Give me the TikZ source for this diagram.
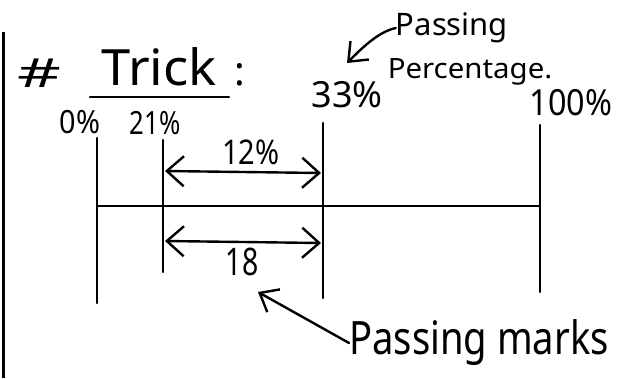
\documentclass[tikz,border=0pt]{standalone}
\usepackage{fontspec}
\setmainfont{Noto Sans}
\usetikzlibrary{arrows.meta}
\newcommand{\hw}[3]{\scalebox{#1}[1]{\fontsize{#2}{#2}\selectfont #3}}
\tikzset{
  hwbarb/.tip={Straight Barb[length=17pt,width=30pt,line width=2.4pt]},
  hwpoint/.tip={Straight Barb[length=16pt,width=26pt,line width=2.4pt]}}
\begin{document}
\begin{tikzpicture}[x=1pt,y=-1pt,
  ink/.style={line width=2.4pt,line cap=round,line join=round,black},
  dim/.style={ink,hwbarb-hwbarb},
  pointer/.style={ink,-hwpoint},
  lbl/.style={inner sep=0pt}]
\useasboundingbox[fill=white] (0,0) rectangle (629,378);
% left border
\draw[line width=3pt] (3,32) -- (3,378);
% heading
\node[lbl] (hash) at (39,73) {\hw{1.7}{40}{\#}};
\node[lbl] (trick) at (159,67) {\hw{1.05}{50}{Trick}};
\node[lbl] (colon) at (240,75) {\hw{1}{40}{:}};
\coordinate (ul1) at (90,97); \coordinate (ul2) at (229,97);
\draw[ink] (ul1) -- (ul2);
% percentage labels
\node[lbl] (p0) at (80,122) {\hw{0.9}{32}{0\%}};
\node[lbl] (p21) at (155,123) {\hw{0.8}{32}{21\%}};
\node[lbl] (p33) at (347,95) {\hw{1}{36}{33\%}};
\node[lbl] (p100) at (571,103) {\hw{0.9}{36}{100\%}};
% passing percentage note
\node[lbl] (passing) at (452,28) {\hw{1}{31}{Passing}};
\node[lbl] (percentage) at (470,72) {\hw{1.05}{28}{Percentage.}};
\coordinate (tip33) at (347,63);
\draw[pointer] (passing.west) .. controls (378,32) and (362,48) .. (tip33);
% scale lines
\coordinate (a0) at (97,138);  \coordinate (b0) at (97,303);
\coordinate (a21) at (163,140); \coordinate (b21) at (163,272);
\coordinate (a33) at (323,123); \coordinate (b33) at (323,298);
\coordinate (a100) at (540,125); \coordinate (b100) at (540,292);
\draw[ink] (a0) -- (b0);
\draw[ink] (a21) -- (b21);
\draw[ink] (a33) -- (b33);
\draw[ink] (a100) -- (b100);
\coordinate (h0) at (97,206); \coordinate (h100) at (540,206);
\draw[ink] (h0) -- (h100);
% dimension arrows
\coordinate (u1) at (165,171); \coordinate (u2) at (321,173);
\draw[dim] (u1) -- (u2);
\node[lbl] (d12) at (251,152) {\hw{0.85}{34}{12\%}};
\coordinate (l1) at (165,241); \coordinate (l2) at (321,243);
\draw[dim] (l1) -- (l2);
\node[lbl] (d18) at (242,262) {\hw{0.75}{38}{18}};
% passing marks note
\node[lbl] (pm) at (479,343) {\hw{0.83}{46}{Passing marks}};
\coordinate (tip18) at (258,292);
\draw[pointer] (pm.west) -- (tip18);
\end{tikzpicture}
\end{document}
